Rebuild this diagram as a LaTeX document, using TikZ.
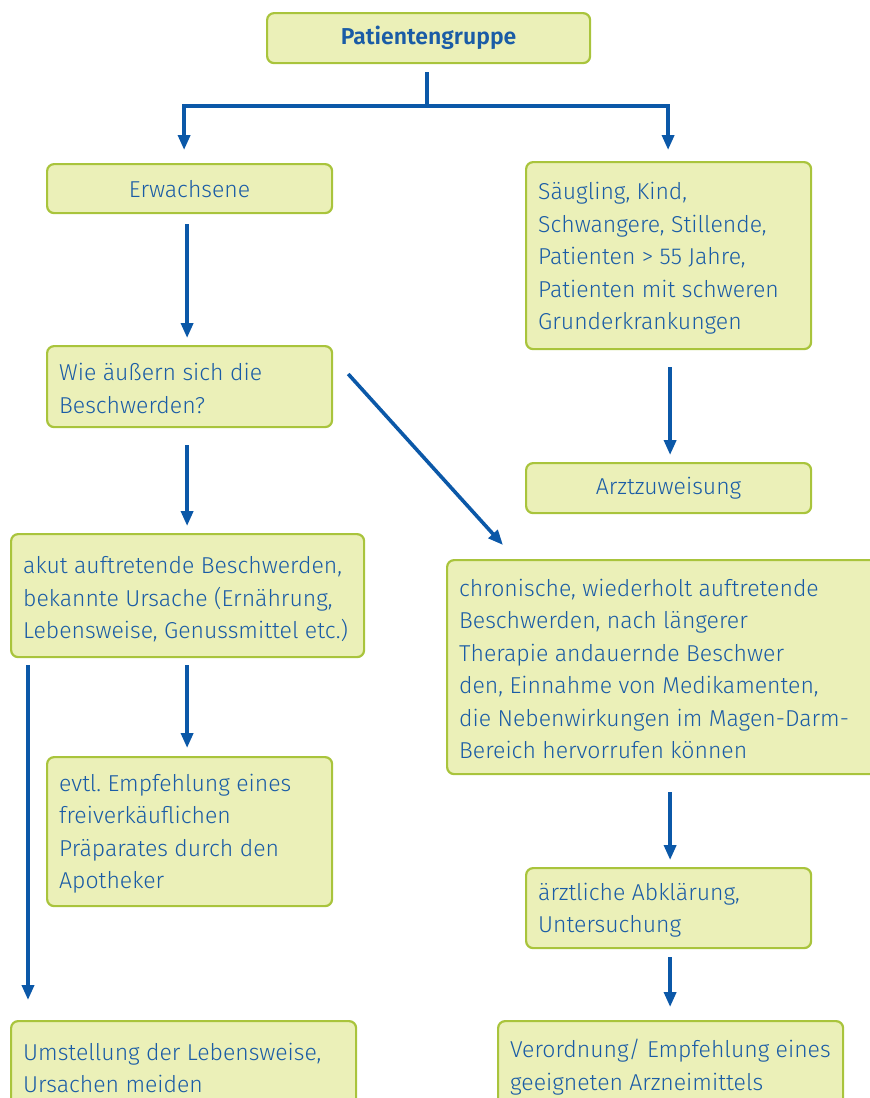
\documentclass[tikz,border=0pt]{standalone}
\usepackage{fontspec}
\setmainfont{Fira Sans}[UprightFont=* Light, BoldFont=* SemiBold]
\usetikzlibrary{arrows.meta,calc}
\definecolor{boxfill}{HTML}{EBF0B8}
\definecolor{boxline}{HTML}{A9C43C}
\definecolor{ink}{HTML}{1A5CA6}
\definecolor{arrowblue}{HTML}{0B58A8}
\frenchspacing
\tikzset{
  box/.style={draw=boxline, fill=boxfill, line width=2.2bp, rounded corners=7bp,
    anchor=north west, inner sep=0bp, text=ink, font=\fontsize{23bp}{32.5bp}\selectfont},
  txt/.style={anchor=west, inner sep=0bp, align=left, text=ink,
    font=\fontsize{23bp}{32.5bp}\selectfont},
  arr/.style={draw=arrowblue, line width=3.6bp, -{Triangle[length=15bp,width=12bp]}},
  ln/.style={draw=arrowblue, line width=3.6bp}
}
\begin{document}
\begin{tikzpicture}[x=1bp,y=-1bp]
\useasboundingbox (0,0) rectangle (870,1098);
\clip (0,0) rectangle (870,1098);

\node[box, minimum width=323bp, minimum height=50bp, font=\fontsize{23bp}{32.5bp}\selectfont\bfseries] (pg) at (266,12) {Patientengruppe};
\node[box, minimum width=285bp, minimum height=49bp] (erw) at (46,163) {Erwachsene};
\node[box, minimum width=285bp, minimum height=187bp] (saeug) at (525,161) {};
\node[txt] (saeug-t) at ([xshift=13bp,yshift=-3bp]saeug.west) {Säugling, Kind,\\Schwangere, Stillende,\\Patienten > 55 Jahre,\\Patienten mit schweren\\Grunderkrankungen};
\node[box, minimum width=285bp, minimum height=81bp] (wie) at (46,345) {};
\node[txt] (wie-t) at ([xshift=13bp,yshift=-2bp]wie.west) {Wie äußern sich die\\Beschwerden?};
\node[box, minimum width=285bp, minimum height=50bp] (arzt) at (525,462) {Arztzuweisung};
\node[box, minimum width=353bp, minimum height=123bp] (akut) at (10,533) {};
\node[txt] (akut-t) at ([xshift=13bp,yshift=-4bp]akut.west) {akut auftretende Beschwerden,\\bekannte Ursache (Ernährung,\\Lebensweise, Genussmittel etc.)};
\node[box, minimum width=440bp, minimum height=214bp] (chron) at (446,559) {};
\node[txt] (chron-t) at ([xshift=13bp,yshift=-2bp]chron.west) {chronische, wiederholt auftretende\\Beschwerden, nach längerer\\Therapie andauernde Beschwer\\den, Einnahme von Medikamenten,\\die Nebenwirkungen im Magen-Darm-\\Bereich hervorrufen können};
\node[box, minimum width=285bp, minimum height=149bp] (evtl) at (46,756) {};
\node[txt] (evtl-t) at ([xshift=13bp,yshift=-2bp]evtl.west) {evtl. Empfehlung eines\\freiverkäuflichen\\Präparates durch den\\Apotheker};
\node[box, minimum width=285bp, minimum height=80bp] (aerzt) at (525,867) {};
\node[txt] (aerzt-t) at ([xshift=13bp,yshift=-2bp]aerzt.west) {ärztliche Abklärung,\\Untersuchung};
\node[box, minimum width=345bp, minimum height=90bp] (umst) at (10,1020) {};
\node[txt] (umst-t) at ([xshift=13bp,yshift=-2bp]umst.west) {Umstellung der Lebensweise,\\Ursachen meiden};
\node[box, minimum width=345bp, minimum height=90bp] (verord) at (497,1020) {};
\node[txt] (verord-t) at ([xshift=13bp,yshift=-1bp]verord.west) {Verordnung/ Empfehlung eines\\geeigneten Arzneimittels};

\coordinate (j) at (427,106);
\draw[ln] ([yshift=-8bp]pg.south -| j) -- (j);
\draw[arr] (j) -| ([xshift=-5.5bp,yshift=13bp]erw.north);
\draw[arr] (j) -| ([xshift=-0.5bp,yshift=11bp]saeug.north);
\draw[arr] ([xshift=-2.5bp,yshift=-10bp]erw.south) -- ([xshift=-2.5bp,yshift=7bp]wie.north);
\draw[arr] ([xshift=-2.5bp,yshift=-17bp]wie.south) -- ([xshift=-2.5bp,yshift=7bp]akut.north -| wie.south);
\draw[arr] ($(wie.north east)+(15,29)$) -- ($(chron.north west)+(57,-14)$);
\draw[arr] ([xshift=1.5bp,yshift=-17bp]saeug.south) -- ([xshift=1.5bp,yshift=7bp]arzt.north);
\draw[arr] ([yshift=-7bp]akut.south -| wie.south) ++(-2.5bp,0) -- ([xshift=-2.5bp,yshift=8bp]evtl.north);
\draw[arr] ([xshift=18bp,yshift=-7bp]akut.south west) -- ([xshift=18bp,yshift=20bp]umst.north west);
\draw[arr] ([yshift=-17bp]chron.south -| aerzt.south) ++(1.5bp,0) -- ([xshift=1.5bp,yshift=7bp]aerzt.north);
\draw[arr] ([xshift=1.5bp,yshift=-8bp]aerzt.south) -- ([xshift=1.5bp,yshift=13bp]verord.north -| aerzt.south);
\end{tikzpicture}
\end{document}
